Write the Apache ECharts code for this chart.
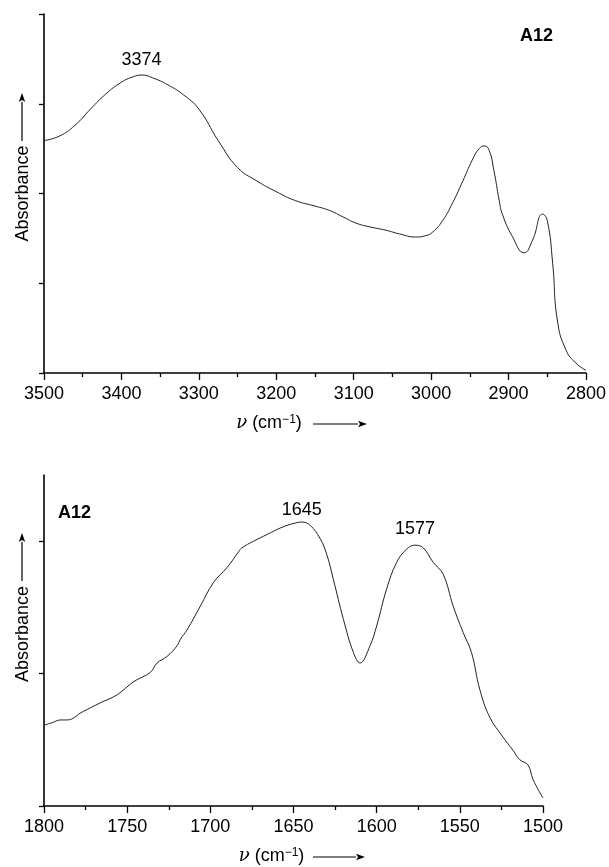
<!DOCTYPE html>
<html>
<head>
<meta charset="utf-8">
<script src="https://cdn.jsdelivr.net/npm/echarts@6/dist/echarts.min.js"></script>
<style>
  html, body { margin: 0; padding: 0; background: #fff; }
  #main { width: 609px; height: 867px; }
</style>
</head>
<body>
<div id="main"></div>
<script>
// top panel: O-H / C-H stretching region
var topWave = [3500, 3480, 3460, 3440, 3420, 3400, 3385, 3374, 3360, 3340, 3320, 3300, 3275, 3250, 3225, 3200,
  3175, 3150, 3131, 3114, 3097, 3080, 3058, 3041, 3020, 3007, 2998, 2985, 2972, 2959, 2947, 2938, 2931,
  2925, 2919, 2912, 2908, 2895, 2880, 2869, 2856, 2850, 2843, 2837, 2826, 2813, 2800];
var topAbs = [2.59, 2.64, 2.76, 2.94, 3.11, 3.24, 3.30, 3.32, 3.29, 3.21, 3.10, 2.94, 2.59, 2.29, 2.14, 2.02,
  1.92, 1.86, 1.81, 1.74, 1.67, 1.63, 1.59, 1.55, 1.515, 1.53, 1.57, 1.70, 1.90, 2.14, 2.37, 2.50, 2.53,
  2.48, 2.26, 1.92, 1.77, 1.52, 1.34, 1.48, 1.77, 1.70, 1.22, 0.59, 0.26, 0.11, 0.03];
var topPeaks = [3374];

// bottom panel: carbonyl / carboxylate region
var botWave = [1800, 1795, 1790, 1786, 1777, 1766, 1756, 1746, 1736, 1732, 1726, 1720, 1718, 1714, 1706,
  1698, 1690, 1683, 1681, 1674, 1666, 1656, 1648, 1645, 1640, 1634, 1630, 1626, 1620, 1614, 1610, 1604,
  1600, 1594, 1588, 1582, 1577, 1572, 1566, 1560, 1554, 1548, 1543, 1538, 1532, 1524, 1518, 1514, 1509,
  1506, 1500];
var botAbs = [0.61, 0.63, 0.65, 0.65, 0.71, 0.78, 0.84, 0.94, 1.01, 1.08, 1.13, 1.21, 1.26, 1.33, 1.51,
  1.69, 1.80, 1.92, 1.95, 2.00, 2.05, 2.11, 2.14, 2.145, 2.12, 2.02, 1.90, 1.71, 1.41, 1.16, 1.08, 1.21,
  1.36, 1.64, 1.84, 1.94, 1.97, 1.95, 1.84, 1.75, 1.51, 1.31, 1.16, 0.88, 0.67, 0.52, 0.42, 0.35, 0.31,
  0.20, 0.06];
var botPeaks = [1645, 1577];

var sampleName = 'A12';
var font = '"Liberation Sans", Arial, Helvetica, sans-serif';

function pairs(xs, ys) {
  return xs.map(function (x, i) { return [x, ys[i]]; });
}
function peakMarks(xs, ys, peaks, dist) {
  return peaks.map(function (p, k) {
    var i = xs.indexOf(p);
    return { coord: [p, ys[i]], value: p, label: { distance: dist[k] } };
  });
}

var nameRich = {
  nu: { fontFamily: '"DejaVu Serif", "Liberation Serif", serif', fontStyle: 'italic', fontSize: 18, color: '#000' },
  t: { fontFamily: font, fontSize: 18, color: '#000' },
  sup: { fontFamily: font, fontSize: 12, color: '#000', verticalAlign: 'top' }
};
var xName = '{nu|ν}{t| (cm}{sup|−1}{t|)}';

function xAxisCfg(grid, min, max, step, padRight) {
  return {
    type: 'value', gridIndex: grid, inverse: true, min: min, max: max, interval: step,
    name: xName, nameLocation: 'middle', nameGap: 41,
    nameTextStyle: { rich: nameRich, padding: [0, padRight, 0, 0] },
    axisLine: { onZero: false, lineStyle: { color: '#000', width: 1.6 } },
    axisTick: { length: 7, lineStyle: { color: '#000', width: 1.3 } },
    minorTick: { show: true, splitNumber: 2, length: 4, lineStyle: { color: '#000', width: 1.3 } },
    axisLabel: { color: '#000', fontFamily: font, fontSize: 18, margin: 12,
      formatter: function (v) { return String(v); } },
    splitLine: { show: false }
  };
}
function yAxisCfg(grid, max, ticks, padLeft) {
  return {
    type: 'value', gridIndex: grid, min: 0, max: max, interval: 1,
    name: 'Absorbance', nameLocation: 'middle', nameGap: 12, nameRotate: 90,
    nameTextStyle: { color: '#000', fontFamily: font, fontSize: 18, padding: [0, 0, 0, padLeft] },
    axisLine: { show: true, onZero: false, lineStyle: { color: '#000', width: 1.6 } },
    axisTick: { show: true, length: 5, customValues: ticks, lineStyle: { color: '#000', width: 1.3 } },
    axisLabel: { show: false },
    splitLine: { show: false }
  };
}
function arrow(x1, y1, x2, y2) {
  // small arrow drawn beside an axis name
  var dx = x2 - x1, dy = y2 - y1, len = Math.sqrt(dx * dx + dy * dy);
  var ux = dx / len, uy = dy / len, h = 9, w = 3.2;
  var bx = x2 - ux * h, by = y2 - uy * h;
  return [
    { type: 'line', shape: { x1: x1, y1: y1, x2: bx, y2: by }, style: { stroke: '#000', lineWidth: 1.2 } },
    { type: 'polygon', shape: { points: [[x2, y2], [bx - uy * w, by + ux * w], [bx + ux * 2, by + uy * 2], [bx + uy * w, by - ux * w]] },
      style: { fill: '#000' } }
  ];
}

var chart = echarts.init(document.getElementById('main'));
chart.setOption({
  backgroundColor: '#fff',
  animation: false,
  title: [
    { text: sampleName, left: 520, top: 27, padding: 0,
      textStyle: { fontFamily: font, fontWeight: 'bold', fontSize: 18, color: '#000' } },
    { text: sampleName, left: 58, top: 504, padding: 0,
      textStyle: { fontFamily: font, fontWeight: 'bold', fontSize: 18, color: '#000' } }
  ],
  grid: [
    { left: 44, top: 14, width: 543, height: 359 },
    { left: 44, top: 475, width: 499, height: 331 }
  ],
  xAxis: [
    xAxisCfg(0, 2800, 3500, 100, 92),
    xAxisCfg(1, 1500, 1800, 50, 44)
  ],
  yAxis: [
    yAxisCfg(0, 4, [0, 1, 2, 3, 4], 0),
    yAxisCfg(1, 2.5, [0, 1, 2], 13)
  ],
  graphic: [].concat(
    arrow(22, 141, 22, 93),
    arrow(22, 581, 22, 533),
    arrow(313, 424, 367, 424),
    arrow(313, 857, 365, 857)
  ),
  series: [
    {
      type: 'line', xAxisIndex: 0, yAxisIndex: 0, data: pairs(topWave, topAbs),
      showSymbol: false, smooth: 0.5, lineStyle: { color: '#222', width: 1 },
      markPoint: {
        symbol: 'circle', symbolSize: 0,
        label: { show: true, position: 'top', color: '#000', fontFamily: font, fontSize: 18, formatter: '{c}' },
        data: peakMarks(topWave, topAbs, topPeaks, [6])
      }
    },
    {
      type: 'line', xAxisIndex: 1, yAxisIndex: 1, data: pairs(botWave, botAbs),
      showSymbol: false, smooth: 0.4, lineStyle: { color: '#222', width: 1 },
      markPoint: {
        symbol: 'circle', symbolSize: 0,
        label: { show: true, position: 'top', color: '#000', fontFamily: font, fontSize: 18, formatter: '{c}' },
        data: peakMarks(botWave, botAbs, botPeaks, [3, 7])
      }
    }
  ]
});
</script>
</body>
</html>
